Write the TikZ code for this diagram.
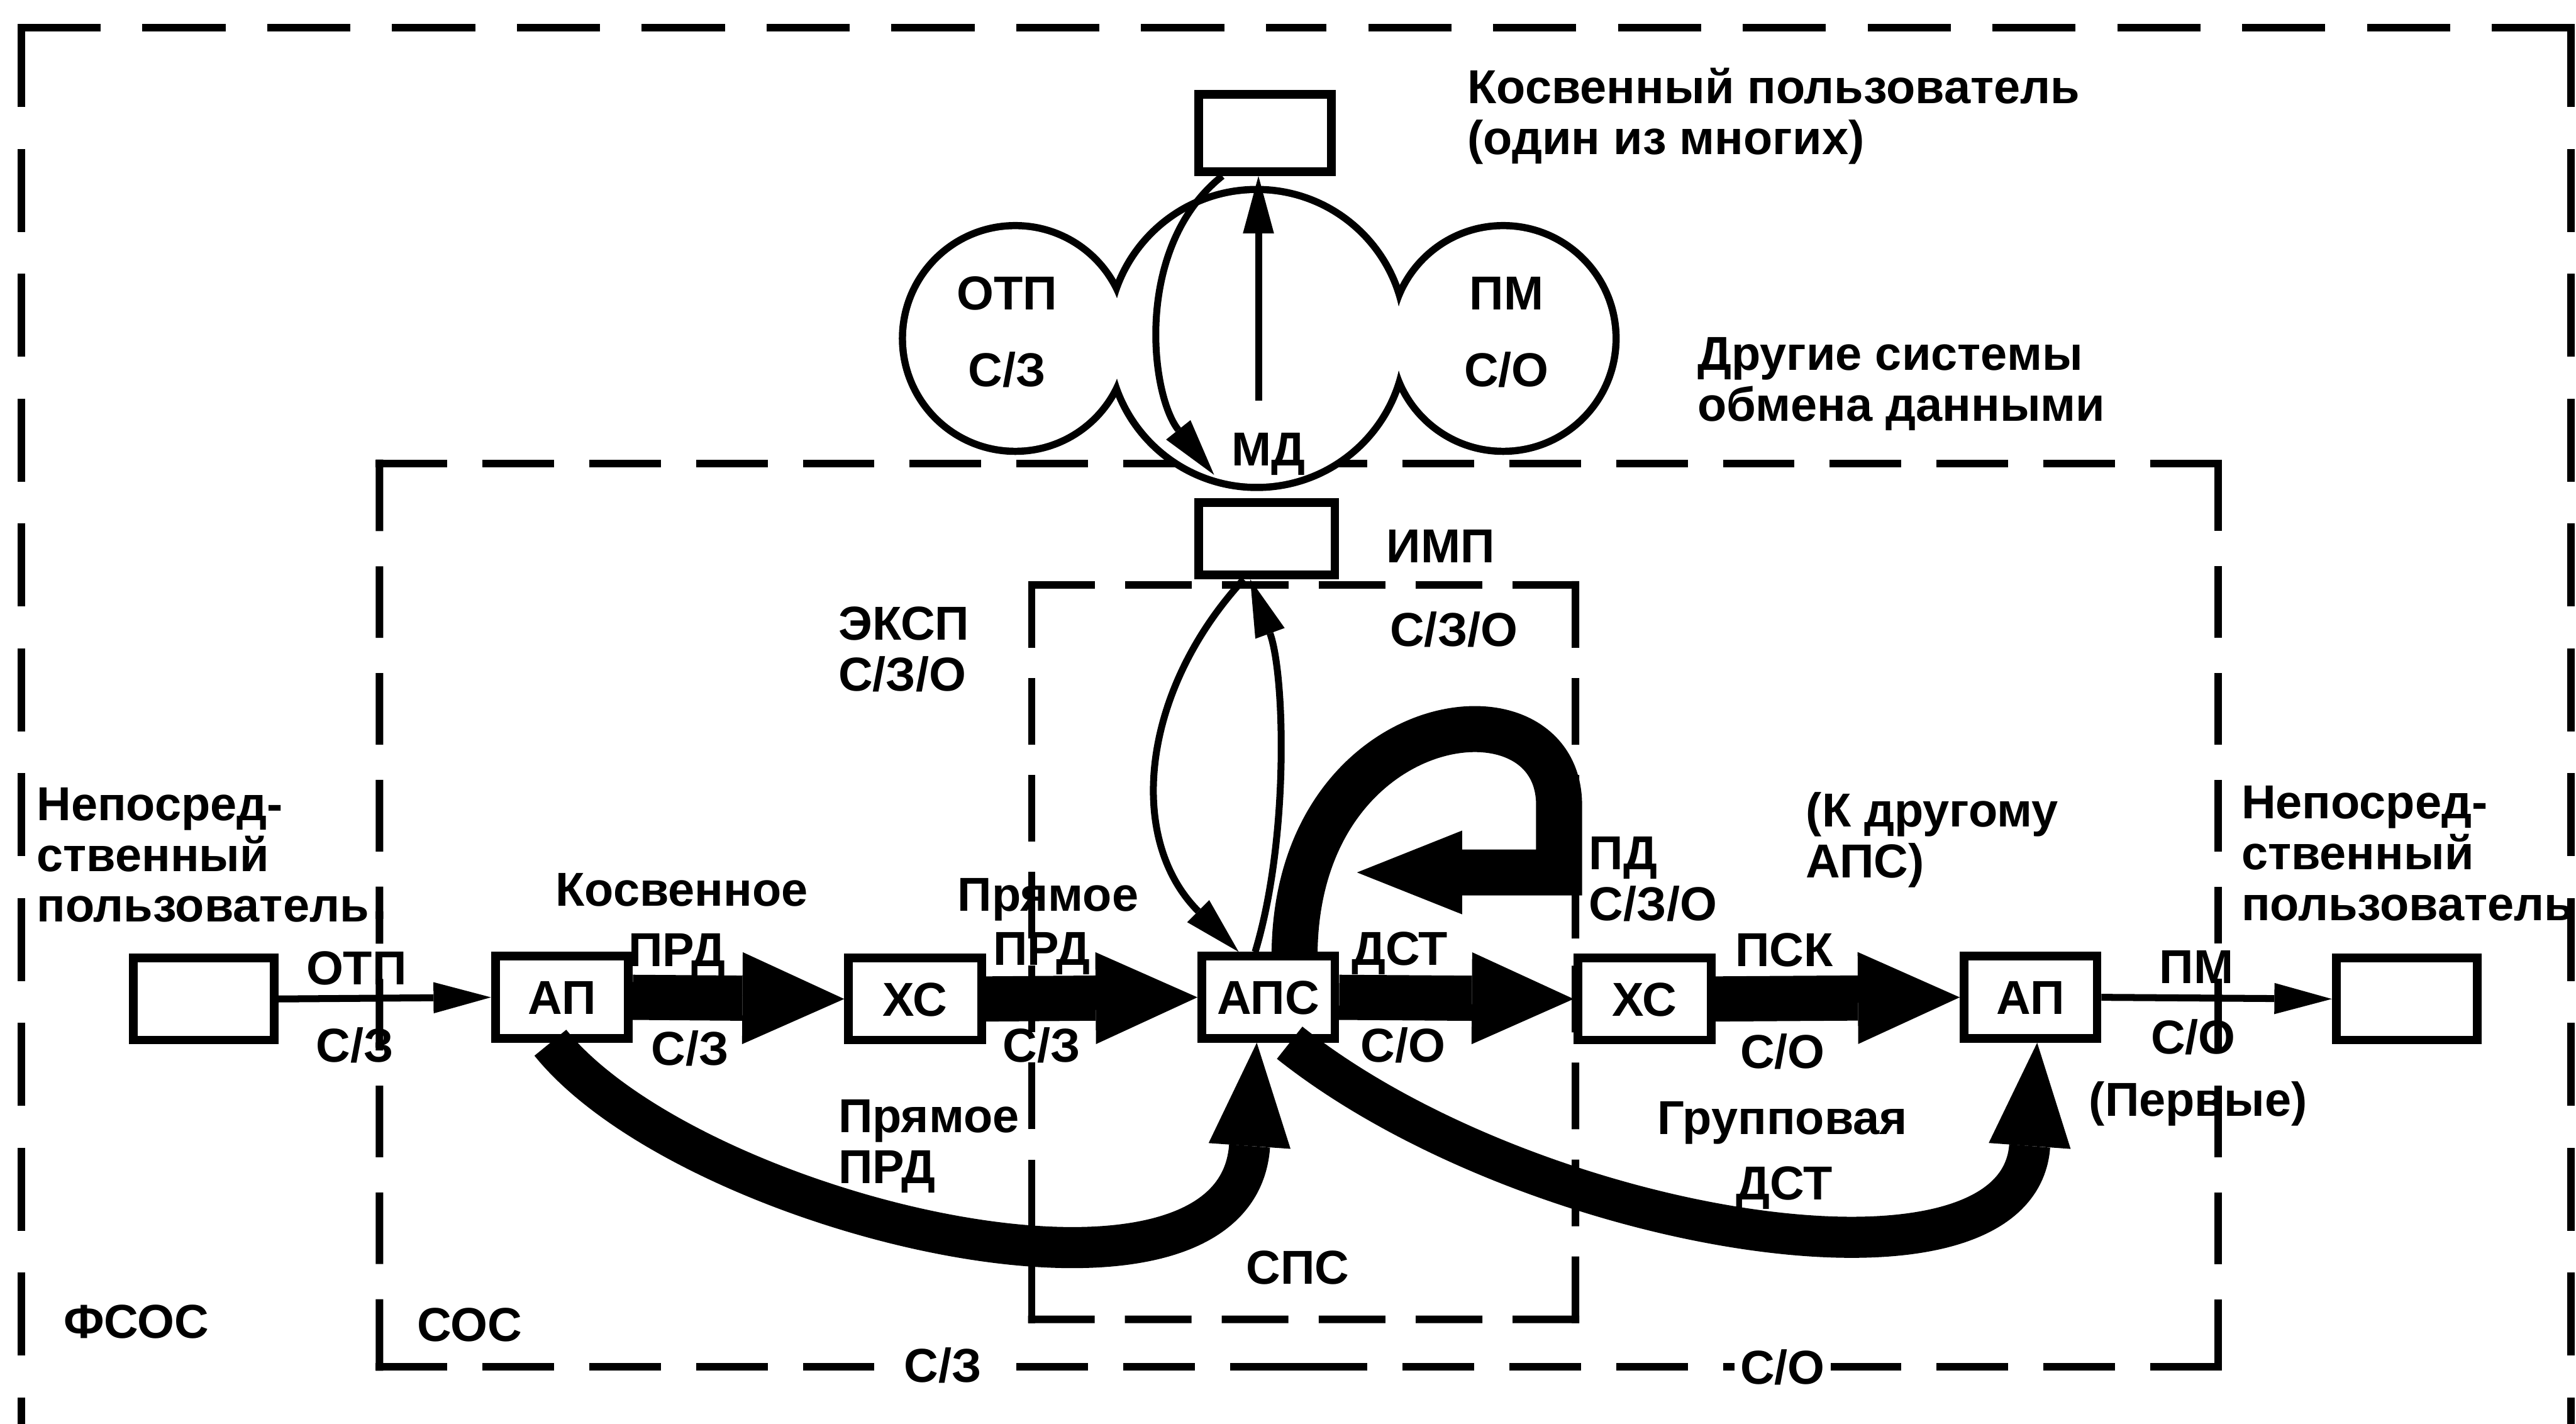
\documentclass[tikz,border=0pt]{standalone}
\usepackage{fontspec}
\setmainfont{Liberation Sans}
\usetikzlibrary{arrows.meta,calc}
\newcommand\mydbox[3]{%
  \coordinate (dbTL) at #2;
  \coordinate (dbBR) at #3;
  \coordinate (dbTR) at (dbTL -| dbBR);
  \coordinate (dbBL) at (dbTL |- dbBR);
  \draw[#1] (dbTL) -- ($(dbTL)!.5!(dbTR)$);
  \draw[#1] (dbTR) -- ($(dbTL)!.5!(dbTR)$);
  \draw[#1] (dbTR) -- ($(dbTR)!.5!(dbBR)$);
  \draw[#1] (dbBR) -- ($(dbTR)!.5!(dbBR)$);
  \draw[#1] (dbBR) -- ($(dbBR)!.5!(dbBL)$);
  \draw[#1] (dbBL) -- ($(dbBR)!.5!(dbBL)$);
  \draw[#1] (dbBL) -- ($(dbBL)!.5!(dbTL)$);
  \draw[#1] (dbTL) -- ($(dbBL)!.5!(dbTL)$);
}
\begin{document}
\begin{tikzpicture}[x=0.02cm,y=-0.02cm,
  lab/.style={font=\fontsize{16.5}{17.6}\selectfont\bfseries, inner sep=0pt, text height=11.8pt, text depth=0pt},
  mlab/.style={font=\fontsize{16.5}{17.6}\selectfont\bfseries, inner sep=0pt, align=left, anchor=north west},
  boxn/.style={lab, draw, line width=3pt, fill=white, minimum width=1.62cm, minimum height=1.0cm},
  ubox/.style={boxn, minimum width=1.72cm},
  dO/.style={line width=2.6pt, line cap=rect, dash pattern=on 0.92cm off 0.6cm},
  dS/.style={line width=2.6pt, line cap=rect, dash pattern=on 0.78cm off 0.52cm},
  dP/.style={line width=2.6pt, line cap=rect, dash pattern=on 0.72cm off 0.46cm},
  thin/.style={line width=2.4pt, -{Triangle[length=0.7cm,width=0.38cm,line width=0pt]}},
  fat/.style={line width=0.55cm, -{Triangle[length=1.24cm,width=1.12cm,line width=0pt]}},
  curv/.style={line width=0.5cm, -{Triangle[length=1.26cm,width=1.0cm,line width=0pt]}},
  loopa/.style={line width=0.56cm, line join=miter, -{Triangle[length=1.28cm,width=1.02cm,line width=0pt]}},
]
\useasboundingbox (0,0) rectangle (1568,866.4);
\clip (0,0) rectangle (1568,866.4);

% outer dashed frame (ФСОС)
\coordinate (oTL) at (13,17);
\coordinate (oTR) at (1565,17);
\coordinate (oM) at (789,17);
\draw[dO] (oTL) -- (oM);
\draw[dO] (oTR) -- (oM);
\draw[dO] (oTL) -- (13,900);
\draw[dO] (oTR) -- (1565,900);

% СОС and СПС dashed boxes
\mydbox{dS}{(231,282)}{(1350,832)}
\mydbox{dP}{(628,356)}{(959,803)}

% cloud of other systems
\draw[line width=5pt] (618,206) circle[radius=1.33cm] (765,206) circle[radius=1.77cm] (915,206) circle[radius=1.33cm];
\fill[white] (618,206) circle[radius=1.33cm] (765,206) circle[radius=1.77cm] (915,206) circle[radius=1.33cm];

% boxes
\node[ubox] (uL) at (124,608) {};
\node[boxn] (ap1) at (342,607) {АП};
\node[boxn] (xc1) at (557,608) {ХС};
\node[boxn] (aps) at (772,607) {АПС};
\node[boxn] (xc2) at (1001,608) {ХС};
\node[boxn] (ap2) at (1236,607) {АП};
\node[ubox] (uR) at (1465,608) {};
\node[boxn, minimum width=1.66cm, minimum height=0.88cm] (imp) at (771,328) {};
\node[boxn, minimum height=0.94cm] (top) at (770,81) {};

% free ends
\coordinate (mdin) at (739,289);
\coordinate (mdout) at (766,244);
\coordinate (pdtip) at (826,531);

% arrows
\draw[thin] (uL.east) -- (ap1.west);
\draw[thin] (ap2.east) -- (uR.west);
\draw[fat] (ap1.east) -- (xc1.west);
\draw[fat] (xc1.east) -- (aps.west);
\draw[fat] (aps.east) -- (xc2.west);
\draw[fat] (xc2.east) -- (ap2.west);
\draw[curv] ($(ap1.south)+(-7,0)$) .. controls (420,740) and (752,820) .. ($(aps.south)+(-7,0)$);
\draw[curv] ($(aps.south)+(13,0)$) .. controls (930,750) and (1228,800) .. ($(ap2.south)+(4,0)$);
\draw[loopa] ($(aps.north)+(16,0)$) .. controls (790,430) and (949,410) .. (949,490) -- (949,531) -- (pdtip);
\draw[thin] ($(imp.south)+(-14,0)$) .. controls (695,420) and (685,510) .. ($(aps.north)+(-18,0)$);
\draw[thin] ($(aps.north)+(-8,0)$) .. controls (785,510) and (782,410) .. ($(imp.south)+(-10,0)$);
\draw[thin] ($(top.south)+(-26,0)$) .. controls (690,150) and (700,240) .. (mdin);
\draw[thin] (mdout) -- (mdout |- top.south);

% labels
\node[lab] (otp0) at (613,178) {ОТП};
\node[lab] (sz0) at (613,225) {С/З};
\node[lab] (pm0) at (917,178) {ПМ};
\node[lab] (so0) at (917,225) {С/О};
\node[lab] (md) at (772,273) {МД};
\node[mlab] (kosv) at (893,41) {Косвенный пользователь\\(один из многих)};
\node[mlab] (drug) at (1033,205) {Другие системы\\обмена данными};
\node[lab] (impl) at (877,332) {ИМП};
\node[mlab] (eksp) at (510,369) {ЭКСП\\С/З/О};
\node[lab] (szo1) at (885,383) {С/З/О};
\node[mlab] (npL) at (22,479) {Непосред-\\ственный\\пользователь};
\node[mlab] (npR) at (1364,478) {Непосред-\\ственный\\пользователь};
\node[lab] (kos) at (415,541) {Косвенное};
\node[lab] (prd1) at (412,578) {ПРД};
\node[lab] (sz1) at (420,638) {С/З};
\node[lab] (pr2) at (638,544) {Прямое};
\node[lab] (prd2) at (634,577) {ПРД};
\node[lab] (sz2) at (634,636) {С/З};
\node[lab] (dst1) at (852,577) {ДСТ};
\node[lab] (so1) at (854,636) {С/О};
\node[mlab] (pd) at (967,509) {ПД\\С/З/О};
\node[mlab] (kdr) at (1099,482) {(К другому\\АПС)};
\node[lab] (psk) at (1086,578) {ПСК};
\node[lab] (so2) at (1085,640) {С/О};
\node[lab] (grp) at (1085,680) {Групповая};
\node[lab] (dst2) at (1086,720) {ДСТ};
\node[lab] (otp1) at (217,589) {ОТП};
\node[lab] (sz3) at (216,636) {С/З};
\node[lab] (pm1) at (1337,588) {ПМ};
\node[lab] (so3) at (1335,631) {С/О};
\node[lab] (perv) at (1338,669) {(Первые)};
\node[mlab] (pr3) at (510,669) {Прямое\\ПРД};
\node[lab] (sps) at (790,771) {СПС};
\node[lab] (fsos) at (83,804) {ФСОС};
\node[lab] (sos) at (286,806) {СОС};
\node[lab, fill=white, inner xsep=2pt] (szb) at (574,831) {С/З};
\node[lab, fill=white, inner xsep=2pt] (sob) at (1085,832) {С/О};
\end{tikzpicture}
\end{document}
